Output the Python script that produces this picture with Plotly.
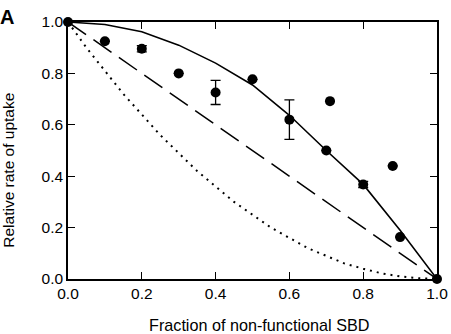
import plotly.graph_objects as go

# Measured data points
pt_x = [0.0, 0.1, 0.2, 0.3, 0.4, 0.5, 0.6, 0.7, 0.71, 0.8, 0.88, 0.9, 1.0]
pt_y = [1.0, 0.925, 0.896, 0.80, 0.726, 0.777, 0.62, 0.50, 0.692, 0.368, 0.44, 0.163, 0.0]
pt_err = [0, 0, 0.012, 0, 0.047, 0, 0.077, 0, 0, 0.012, 0, 0, 0]

# Solid model curve
solid_x = [0.0, 0.1, 0.2, 0.3, 0.4, 0.5, 0.6, 0.7, 0.8, 0.9, 1.0]
solid_y = [1.0, 0.99, 0.962, 0.91, 0.84, 0.755, 0.637, 0.50, 0.368, 0.19, 0.0]

# Dashed model line
dash_x = [0.0, 1.0]
dash_y = [1.0, 0.0]

# Dotted model curve
dot_x = [0.0, 0.05, 0.1, 0.15, 0.2, 0.25, 0.3, 0.35, 0.4, 0.45, 0.5,
         0.55, 0.6, 0.65, 0.7, 0.75, 0.8, 0.85, 0.9, 0.95, 1.0]
dot_y = [1.0, 0.90, 0.81, 0.72, 0.64, 0.56, 0.49, 0.42, 0.36, 0.30, 0.25,
         0.20, 0.16, 0.12, 0.09, 0.06, 0.04, 0.022, 0.01, 0.003, 0.0]

tick_vals = [0.0, 0.2, 0.4, 0.6, 0.8, 1.0]
tick_text = ["0.0", "0.2", "0.4", "0.6", "0.8", "1.0"]

FONT = "Liberation Sans, Arial, sans-serif"

fig = go.Figure()
fig.add_trace(go.Scatter(x=dot_x, y=dot_y, mode="lines",
                         line=dict(color="black", width=2, dash="2px,5px"),
                         cliponaxis=False, showlegend=False))
fig.add_trace(go.Scatter(x=dash_x, y=dash_y, mode="lines",
                         line=dict(color="black", width=1.5, dash="22px,9px"),
                         cliponaxis=False, showlegend=False))
fig.add_trace(go.Scatter(x=solid_x, y=solid_y, mode="lines",
                         line=dict(color="black", width=1.6),
                         cliponaxis=False, showlegend=False))
fig.add_trace(go.Scatter(x=pt_x, y=pt_y, mode="markers",
                         marker=dict(color="black", size=10),
                         error_y=dict(type="data", array=pt_err, visible=True,
                                      color="black", thickness=1.3, width=5),
                         cliponaxis=False, showlegend=False))

axis_common = dict(
    range=[0, 1], tickvals=tick_vals, ticktext=tick_text,
    ticks="inside", ticklen=7, tickwidth=1.3, tickcolor="black",
    showline=True, linecolor="black", linewidth=1.5, mirror="ticks",
    showgrid=False, zeroline=False, automargin=False,
    tickfont=dict(family=FONT, size=15.5, color="black"),
)

fig.update_layout(
    width=451, height=334,
    margin=dict(l=68, r=14, t=22, b=55),
    paper_bgcolor="white", plot_bgcolor="white",
    xaxis=dict(**axis_common),
    yaxis=dict(**axis_common),
    font=dict(family=FONT, color="black"),
    annotations=[
        dict(text="Fraction of non-functional SBD", xref="paper", yref="paper",
             x=0.518, y=-0.178, xanchor="center", yanchor="middle",
             showarrow=False, font=dict(size=16.2, family=FONT, color="black")),
        dict(text="Relative rate of uptake", xref="paper", yref="paper",
             x=-0.16, y=0.425, xanchor="center", yanchor="middle", textangle=-90,
             showarrow=False, font=dict(size=15.5, family=FONT, color="black")),
        dict(text="<b>A</b>", xref="paper", yref="paper",
             x=-0.19, y=1.07, xanchor="left", yanchor="top",
             showarrow=False, font=dict(size=20, family=FONT, color="black")),
    ],
)

fig.write_html("out.html", config={"displayModeBar": False},
               post_script="document.body.style.margin='0';document.body.style.padding='0';")
